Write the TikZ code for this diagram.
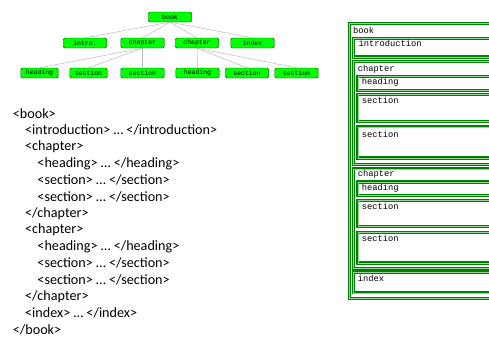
\documentclass[tikz,border=0pt]{standalone}
\usepackage{fontspec}
\setmonofont{Liberation Mono}
\newfontfamily\listfont{Carlito}
\definecolor{xmlgreen}{RGB}{0,128,0}
\definecolor{xmllight}{RGB}{150,215,150}
\definecolor{tagfill}{RGB}{0,255,0}
\begin{document}
\begin{tikzpicture}[x=1bp,y=-1bp,
    tag/.style={draw=green!30!black, fill=tagfill, rounded corners=1.5bp,
      minimum width=43.5bp, minimum height=10bp, inner sep=0pt,
      font=\ttfamily\fontsize{6.5}{7}\selectfont},
    edge/.style={draw=gray!55, line width=0.5bp},
    xmlbox/.style={draw=xmlgreen, double=xmllight, double distance=0.35bp, line width=1.35bp},
    boxtext/.style={anchor=west, inner sep=0pt, font=\ttfamily\fontsize{8.8}{10}\selectfont},
    listline/.style={anchor=west, inner sep=0pt, font=\listfont\fontsize{14.2}{15}\selectfont}]
  \useasboundingbox (0,0) rectangle (489,337);
  % tree
  \draw
    (170,17) node[tag] (book){book}
    (85,43) node[tag] (intro){intro.}
    (142.5,43) node[tag] (chap1){chapter}
    (197,43) node[tag] (chap2){chapter}
    (252.5,43) node[tag] (index){index}
    (39.5,73) node[tag, minimum width=37.5bp] (head1){heading}
    (88.5,73) node[tag, minimum width=37.5bp] (sec11){section}
    (142.5,73) node[tag] (sec12){section}
    (197.5,73) node[tag] (head2){heading}
    (247,73) node[tag] (sec21){section}
    (296.5,73) node[tag] (sec22){section};
  \begin{scope}[edge]
    \draw (book.south) to (intro.north);
    \draw (book.south) to (chap1.north);
    \draw (book.south) to (chap2.north);
    \draw (book.south) to (index.north);
    \draw (chap1.south) to (head1.north);
    \draw (chap1.south) to (sec11.north);
    \draw (chap1.south) to (sec12.north);
    \draw (chap2.south) to (head2.north);
    \draw (chap2.south) to (sec21.north);
    \draw (chap2.south) to (sec22.north);
  \end{scope}
  % markup
  \path
    (12.7,113.3) node[listline] (l0){<book>}
    (25,130) node[listline] (l1){<introduction> … </introduction>}
    (25,146.7) node[listline] (l2){<chapter>}
    (37.3,163.3) node[listline] (l3){<heading> … </heading>}
    (37.3,180) node[listline] (l4){<section> … </section>}
    (37.3,196.7) node[listline] (l5){<section> … </section>}
    (25,213.3) node[listline] (l6){</chapter>}
    (25,230) node[listline] (l7){<chapter>}
    (37.3,246.7) node[listline] (l8){<heading> … </heading>}
    (37.3,263.3) node[listline] (l9){<section> … </section>}
    (37.3,280) node[listline] (l10){<section> … </section>}
    (25,296.7) node[listline] (l11){</chapter>}
    (25,313.3) node[listline] (l12){<index> … </index>}
    (12.7,330) node[listline] (l13){</book>};
  % nested boxes
  \begin{scope}
    \clip (330,0) rectangle (489,337);
    \draw[xmlbox] (349.5,23.5) rectangle (500,298.5);
    \draw[xmlbox] (353.5,38.5) rectangle (500,57);
    \draw[xmlbox] (353.5,61.3) rectangle (500,164.5);
    \draw[xmlbox] (357.8,76.5) rectangle (500,90.2);
    \draw[xmlbox] (357.8,94.5) rectangle (500,121.3);
    \draw[xmlbox] (357.8,126.8) rectangle (500,158);
    \draw[xmlbox] (353.5,168.7) rectangle (500,268.3);
    \draw[xmlbox] (357.8,182) rectangle (500,195.5);
    \draw[xmlbox] (357.8,200.2) rectangle (500,226.3);
    \draw[xmlbox] (357.8,232.2) rectangle (500,263);
    \draw[xmlbox] (353.5,272) rectangle (500,292.8);
  \end{scope}
  \path
    (353,30) node[boxtext] (tbook){book}
    (358.3,43) node[boxtext] (tintro){introduction}
    (357.7,69.3) node[boxtext] (tchap1){chapter}
    (361.7,82.7) node[boxtext] (thead1){heading}
    (361.7,100.7) node[boxtext] (tsec11){section}
    (361.7,134) node[boxtext] (tsec12){section}
    (357.7,174) node[boxtext] (tchap2){chapter}
    (361.7,188.3) node[boxtext] (thead2){heading}
    (361.7,206) node[boxtext] (tsec21){section}
    (361.7,238.7) node[boxtext] (tsec22){section}
    (357.7,278.7) node[boxtext] (tindex){index};
\end{tikzpicture}
\end{document}
